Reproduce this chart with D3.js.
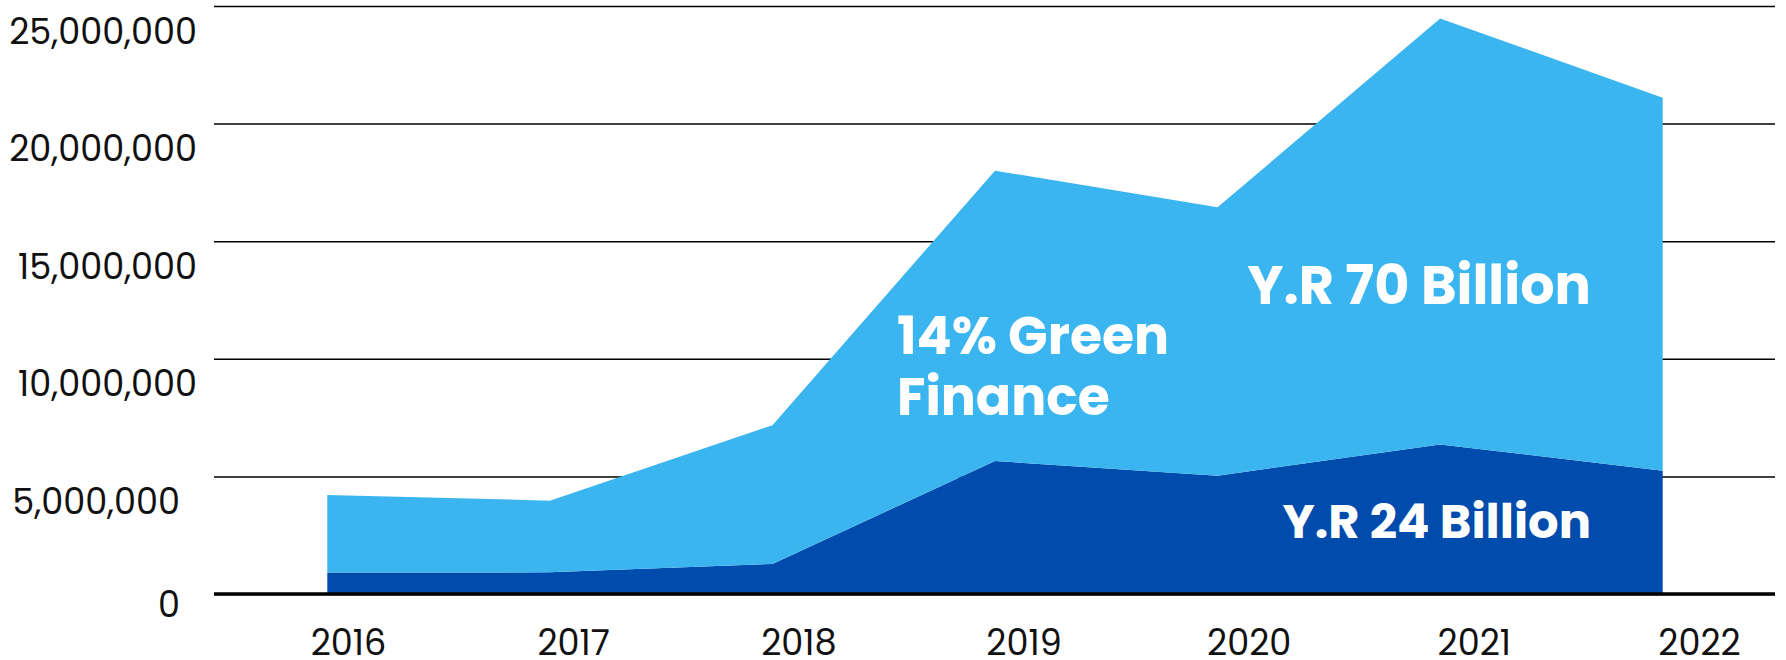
<!DOCTYPE html>
<html>
<head>
<meta charset="utf-8">
<script src="https://cdn.jsdelivr.net/npm/d3@7/dist/d3.min.js"></script>
<style>
  html, body { margin: 0; padding: 0; background: #ffffff; }
  svg { display: block; }
  .tick text { font-family: "Poppins", "Open Sans", sans-serif; fill: #111111; }
  .note { font-family: "Poppins", "Open Sans", sans-serif; font-weight: 700; fill: #ffffff; }
</style>
</head>
<body>
<svg id="chart" width="1786" height="660"></svg>
<script>
// Yearly financing volumes, stacked: green finance at the bottom, the rest above it
const years = ["2016", "2017", "2018", "2019", "2020", "2021", "2022"];
const greenFinance = [910000, 920000, 1280000, 5650000, 5030000, 6360000, 5240000];
const otherFinance = [3300000, 3050000, 5900000, 12350000, 11410000, 18110000, 15860000];
const yTicks = [0, 5000000, 10000000, 15000000, 20000000, 25000000];
const notes = [
  { lines: ["14% Green", "Finance"], x: 897, y: 354, size: 52, anchor: "start" },
  { lines: ["Y.R 70 Billion"], x: 1591, y: 304, size: 54, anchor: "end" },
  { lines: ["Y.R 24 Billion"], x: 1591, y: 538, size: 48, anchor: "end" }
];

const colors = { green: "#004cad", other: "#3bb5ef" };

const svg = d3.select("#chart");
const plot = { left: 214, right: 1775, top: 6, bottom: 594 };

const rows = years.map((yr, i) => ({ year: yr, green: greenFinance[i], other: otherFinance[i] }));
const stacked = d3.stack().keys(["green", "other"])(rows);

const x = d3.scalePoint().domain(years).range([216, 1774]).padding(0.5);
const xLabels = d3.scalePoint().domain(years).range([348, 1699]);
const y = d3.scaleLinear().domain([0, 25000000]).range([plot.bottom, plot.top]);

// horizontal gridlines with value labels sitting just below each line
const yAxis = svg.append("g")
  .attr("transform", `translate(${plot.left},0)`)
  .call(d3.axisLeft(y).tickValues(yTicks).tickSize(-(plot.right - plot.left)).tickFormat(d3.format(",")));
yAxis.select(".domain").remove();
yAxis.selectAll(".tick line").attr("stroke", "#000").attr("stroke-width", 1.5);
yAxis.selectAll(".tick text")
  .attr("font-size", 35)
  .attr("x", d => (d <= 5000000 ? -34 : -17))
  .attr("dy", d => (d === 0 ? 22 : 37))
  .attr("text-anchor", "end");

// stacked areas
const area = d3.area()
  .x(d => x(d.data.year))
  .y0(d => y(d[0]))
  .y1(d => y(d[1]));

svg.append("g").selectAll("path")
  .data(stacked)
  .join("path")
  .attr("d", area)
  .attr("fill", d => colors[d.key]);

// baseline
svg.append("line")
  .attr("x1", plot.left).attr("x2", plot.right)
  .attr("y1", y(0)).attr("y2", y(0))
  .attr("stroke", "#000").attr("stroke-width", 3.5);

// year labels
const xAxis = svg.append("g")
  .attr("transform", `translate(0,${plot.bottom})`)
  .call(d3.axisBottom(xLabels).tickSize(0).tickPadding(0));
xAxis.select(".domain").remove();
xAxis.selectAll(".tick text")
  .attr("font-size", 35)
  .attr("y", 61)
  .attr("dy", 0);

// annotations inside the areas
notes.forEach(n => {
  const t = svg.append("text")
    .attr("class", "note")
    .attr("font-size", n.size)
    .attr("text-anchor", n.anchor)
    .attr("x", n.x)
    .attr("y", n.y);
  n.lines.forEach((line, i) => {
    t.append("tspan").attr("x", n.x).attr("dy", i === 0 ? 0 : 61).text(line);
  });
});
</script>
</body>
</html>
